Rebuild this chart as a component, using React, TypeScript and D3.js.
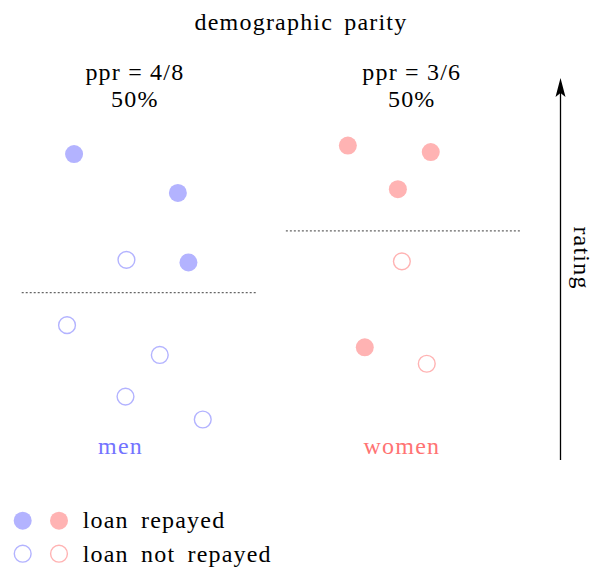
import React from "react";
import * as d3 from "d3";

const groups = ["men", "women"];
const groupLabels = ["men", "women"];
const pprLines1 = ["ppr = 4/8", "ppr = 3/6"];
const pprLines2 = ["50%", "50%"];
const thresholds = [4.38, 6.0];

// points: group, position within group (0..1), rating (0..10), repaid
const pointGroup = ["men","men","men","men","men","men","men","men","women","women","women","women","women","women"];
const pointPos = [0.223, 0.665, 0.71, 0.446, 0.193, 0.588, 0.442, 0.771, 0.264, 0.617, 0.477, 0.336, 0.494, 0.6];
const pointRating = [8.01, 6.99, 5.17, 5.24, 3.53, 2.75, 1.66, 1.06, 8.23, 8.06, 7.09, 2.95, 5.2, 2.52];
const pointRepaid = [true, true, true, false, false, false, false, false, true, true, true, true, false, false];

const legendLabels = ["loan repayed", "loan not repayed"];

const fillColor: Record<string, string> = { men: "#b3b3ff", women: "#ffb3b3" };
const textColor: Record<string, string> = { men: "#7373ff", women: "#ff7373" };

export default function App() {
  const W = 592, H = 568;
  const font = "'Liberation Serif', serif";
  const fs = 24;
  const ls = 1.2;
  const x = d3.scaleBand<string>().domain(groups).range([21.7, 520.7]).paddingInner(0.111);
  const y = d3.scaleLinear().domain([0, 10]).range([460, 78]);
  const bw = x.bandwidth();
  const px = (g: string, f: number) => (x(g) as number) + f * bw;
  const labelPos = [0.421, 0.494];
  const pprPos = [0.482, 0.536];
  const r = 9;
  const ax = 560.5;
  const tipY = y(10);

  return (
    <svg width={W} height={H} style={{ position: "absolute", left: 0, top: 0 }} fontFamily={font} letterSpacing={ls}>
      <text x={301} y={30} textAnchor="middle" fontSize={fs} wordSpacing={4}>demographic parity</text>
      {groups.map((g, i) => (
        <g key={g}>
          <text x={px(g, pprPos[i])} y={80} textAnchor="middle" fontSize={fs}>{pprLines1[i]}</text>
          <text x={px(g, pprPos[i])} y={107} textAnchor="middle" fontSize={fs}>{pprLines2[i]}</text>
          <line x1={x(g)} x2={(x(g) as number) + bw} y1={y(thresholds[i])} y2={y(thresholds[i])}
            stroke="#666" strokeWidth={1.2} strokeDasharray="2,2" letterSpacing={0} />
          <text x={px(g, labelPos[i])} y={454} textAnchor="middle" fontSize={fs} fill={textColor[g]}>{groupLabels[i]}</text>
        </g>
      ))}
      {pointPos.map((p, i) => {
        const g = pointGroup[i];
        return pointRepaid[i] ? (
          <circle key={i} cx={px(g, p)} cy={y(pointRating[i])} r={r} fill={fillColor[g]} />
        ) : (
          <circle key={i} cx={px(g, p)} cy={y(pointRating[i])} r={r - 0.6} fill="none" stroke={fillColor[g]} strokeWidth={1.4} />
        );
      })}
      <line x1={ax} x2={ax} y1={y(0)} y2={tipY + 10} stroke="#000" strokeWidth={1.3} />
      <path d={`M${ax},${tipY} L${ax + 5},${tipY + 19} L${ax},${tipY + 15} L${ax - 5},${tipY + 19} Z`} fill="#000" />
      <text transform={`translate(574,258) rotate(90)`} textAnchor="middle" fontSize={fs}>rating</text>
      {legendLabels.map((l, i) => (
        <g key={l}>
          {groups.map((g, j) => i === 0 ? (
            <circle key={g} cx={22.7 + j * 36.3} cy={520.7 + i * 33} r={r} fill={fillColor[g]} />
          ) : (
            <circle key={g} cx={22.7 + j * 36.3} cy={520.7 + i * 33} r={r - 0.6} fill="none" stroke={fillColor[g]} strokeWidth={1.4} />
          ))}
          <text x={82.7} y={528.3 + i * 33.4} fontSize={fs} wordSpacing={5}>{l}</text>
        </g>
      ))}
    </svg>
  );
}
